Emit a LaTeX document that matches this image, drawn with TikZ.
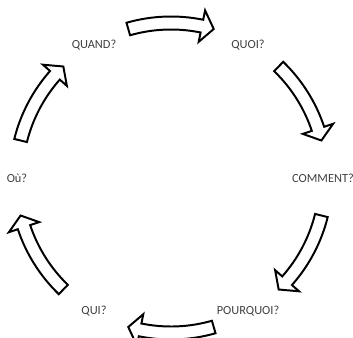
\documentclass[tikz,border=0pt]{standalone}
\usepackage{fontspec}
\setmainfont{Carlito}
\definecolor{labelgray}{HTML}{404040}

\begin{document}
\begin{tikzpicture}[x=0.025cm, y=0.025cm,
question/.style={text=labelgray, font=\fontsize{8.8}{10}\selectfont, inner sep=1pt},
blockarrow/.style={draw=black, fill=white, line width=1.4pt, line join=miter}
]
\useasboundingbox (-171,-159) rectangle (182,178);
\clip (-171,-159) rectangle (182,178);

\node[question](quand) at (120:154){QUAND?};
\node[question](quoi) at (60:154){QUOI?};
\node[question](comment) at (0:152){COMMENT?};
\node[question](pourquoi) at (-60:154){POURQUOI?};
\node[question](qui) at (-120:154){QUI?};
\node[question](ou) at (180:154){Où?};

% curved arrows between the questions
\foreach \a in {90,30,-30,-90,-150,150}
  \draw[blockarrow] (\a+16:161.5) arc[start angle=\a+16, end angle=\a-11.5, radius=161.5]
    -- (\a-11.5:171) -- (\a-16:155) -- (\a-11.5:139) -- (\a-11.5:148.5)
    arc[start angle=\a-11.5, end angle=\a+16, radius=148.5] -- cycle;
\end{tikzpicture}
\end{document}
